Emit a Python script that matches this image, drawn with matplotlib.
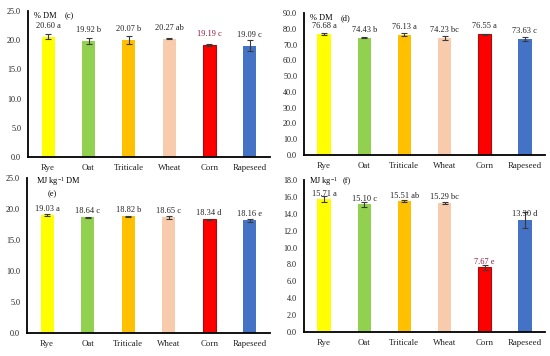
import matplotlib
matplotlib.use("Agg")
import matplotlib.pyplot as plt

plt.rcParams['font.family'] = ['Liberation Serif', 'DejaVu Serif']
plt.rcParams['mathtext.fontset'] = 'custom'
plt.rcParams['mathtext.rm'] = 'Liberation Serif'
plt.rcParams['mathtext.it'] = 'Liberation Serif:italic'

categories = ["Rye", "Oat", "Triticale", "Wheat", "Corn", "Rapeseed"]
colors = ["#FFFF00", "#92D050", "#FFC000", "#F8CBAD", "#FF0000", "#4472C4"]

c_vals = [20.60, 19.92, 20.07, 20.27, 19.19, 19.09]
c_err = [0.40, 0.50, 0.65, 0.15, 0.20, 0.90]
c_lett = ["a", "b", "b", "ab", "c", "c"]

d_vals = [76.68, 74.43, 76.13, 74.23, 76.55, 73.63]
d_err = [0.50, 0.40, 0.90, 1.20, 0.40, 1.20]
d_lett = ["a", "b", "a", "bc", "a", "c"]

e_vals = [19.03, 18.64, 18.82, 18.65, 18.34, 18.16]
e_err = [0.12, 0.12, 0.10, 0.30, 0.10, 0.20]
e_lett = ["a", "c", "b", "c", "d", "e"]

f_vals = [15.71, 15.10, 15.51, 15.29, 7.67, 13.30]
f_err = [0.35, 0.30, 0.12, 0.12, 0.30, 0.95]
f_lett = ["a", "c", "ab", "bc", "e", "d"]

fig = plt.figure(figsize=(5.5, 3.56), dpi=100)

W = 550.0
H = 356.0
def rect(l, r, b, t):
    return [l / W, (H - b) / H, (r - l) / W, (b - t) / H]

# (axes rect, values, errors, letters, ymax, step, unit, tag, corn label colour, label offset px)
panels = [
    (rect(28, 270, 157, 11), c_vals, c_err, c_lett, 25.0, 5.0, "% DM", "(c)", True, 11),
    (rect(304, 545, 155, 13), d_vals, d_err, d_lett, 90.0, 10.0, "% DM", "(d)", False, 8),
    (rect(27, 270, 333, 178), e_vals, e_err, e_lett, 25.0, 5.0, "MJ kg$^{-1}$ DM", "(e)", False, 6.5),
    (rect(304, 545, 332, 180), f_vals, f_err, f_lett, 18.0, 2.0, "MJ kg$^{-1}$", "(f)", True, 5.5),
]

for idx, (pos, vals, errs, letts, ymax, step, unit, tag, corn_col, off) in enumerate(panels):
    ax = fig.add_axes(pos)
    x = list(range(len(categories)))
    edges = ["none"] * 4 + ["#A01010", "none"]
    ax.bar(x, vals, width=0.33, color=colors, edgecolor=edges, linewidth=0.8, zorder=2)
    ax.errorbar(x, vals, yerr=errs, fmt="none", ecolor="#3a3a3a", elinewidth=0.8,
                capsize=2.5, capthick=0.8, zorder=3)
    for i, (v, e, l) in enumerate(zip(vals, errs, letts)):
        col = "#8B1A3A" if (corn_col and i == 4) else "#222222"
        ax.annotate("%.2f %s" % (v, l), (i, v), xytext=(0, off * 0.72),
                    textcoords="offset points", ha="center", va="center",
                    fontsize=6.0, color=col, zorder=4)
    ax.set_xlim(-0.5, 5.5)
    ax.set_ylim(0, ymax)
    n = int(round(ymax / step))
    ticks = [k * step for k in range(n + 1)]
    ax.set_yticks(ticks)
    ax.set_yticklabels(["%.1f" % t for t in ticks])
    ax.set_xticks(x)
    ax.set_xticklabels(categories)
    ax.tick_params(axis="y", length=0, pad=5, labelsize=5.9, colors="#222222")
    ax.tick_params(axis="x", length=0, pad=5, labelsize=6.4, colors="#222222")
    for s in ["top", "right"]:
        ax.spines[s].set_visible(False)
    ax.spines["left"].set_linewidth(1.3)
    ax.spines["bottom"].set_linewidth(1.3)
    ax.spines["left"].set_color("black")
    ax.spines["bottom"].set_color("black")
    if idx == 2:
        ax.text(0.035, 0.98, unit, transform=ax.transAxes, ha="left", va="center", fontsize=6.0)
        ax.text(0.105, 0.895, tag, transform=ax.transAxes, ha="center", va="center", fontsize=6.0)
    elif idx == 3:
        ax.text(0.02, 0.99, unit, transform=ax.transAxes, ha="left", va="center", fontsize=6.0)
        ax.text(0.16, 0.99, tag, transform=ax.transAxes, ha="left", va="center", fontsize=6.0)
    else:
        ax.text(0.025, 0.995, unit, transform=ax.transAxes, ha="left", va="top", fontsize=6.0)
        ax.text(0.15, 0.995, tag, transform=ax.transAxes, ha="left", va="top", fontsize=6.0)

fig.savefig("out.png", dpi=100)
